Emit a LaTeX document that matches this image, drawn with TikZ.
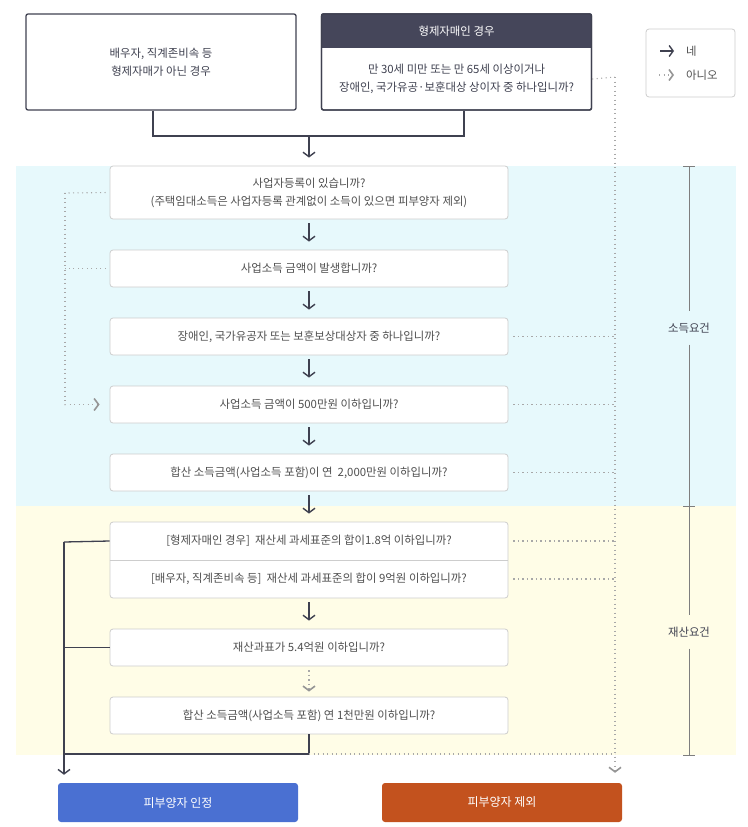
\documentclass[tikz,border=0pt]{standalone}
\usepackage{fontspec}
\setmainfont{Noto Sans CJK KR}
\usetikzlibrary{arrows.meta,positioning}

\definecolor{ink}{HTML}{3F4150}
\definecolor{hdr}{HTML}{45465A}
\definecolor{txt}{HTML}{505050}
\definecolor{rim}{HTML}{CDCDCD}
\definecolor{dotgrey}{HTML}{A8A8A8}
\definecolor{tipgrey}{HTML}{959595}
\definecolor{skyband}{HTML}{E7F9FC}
\definecolor{sandband}{HTML}{FFFDE7}
\definecolor{yesblue}{HTML}{4A70D2}
\definecolor{noorange}{HTML}{C3521E}
\definecolor{bracegrey}{HTML}{7E7E7E}

\tikzset{
  note/.style={text=txt, font=\fontsize{11.4pt}{18pt}\selectfont, align=center, inner sep=0pt},
  casebox/.style={draw=ink, line width=1.3pt, rounded corners=2pt, minimum width=270pt, minimum height=96pt, inner sep=0pt},
  qbox/.style={note, draw=rim, fill=white, line width=0.8pt, rounded corners=3pt, minimum width=398pt, minimum height=37pt},
  endbox/.style={text=white, font=\fontsize{12pt}{14pt}\selectfont, rounded corners=3pt, minimum width=240pt, minimum height=39pt, inner sep=0pt},
  tag/.style={text=ink, font=\fontsize{11.4pt}{14pt}\selectfont, inner sep=0pt, minimum height=33pt},
  link/.style={draw=ink, line width=1.3pt},
  flow/.style={link, -{Straight Barb[length=4.5pt,width=12pt,line width=1.4pt]}, shorten <=4pt, shorten >=8pt},
  nodots/.style={draw=dotgrey, line width=1.1pt, dash pattern=on 1.1pt off 3.4pt},
  nope/.style={nodots, -{Straight Barb[length=4.5pt,width=12pt,line width=1.6pt,color=tipgrey]}},
  brace/.style={draw=bracegrey, line width=0.9pt}
}

\begin{document}
\begin{tikzpicture}[x=1pt,y=-1pt]
  \useasboundingbox (0,0) rectangle (747,827);

  % bands
  \fill[skyband] (16,166) rectangle (736,506);
  \fill[sandband] (16,506) rectangle (736,755);

  % the two cases
  \node[casebox, note, text=ink] (a) at (161,62) {배우자, 직계존비속 등\\형제자매가 아닌 경우};
  \node[casebox] (b) at (456.5,62) {};
  \begin{scope}
    \clip[rounded corners=2pt] (b.north west) rectangle (b.south east);
    \fill[hdr] (b.north west) rectangle (592,48);
  \end{scope}
  \node[casebox] at (b) {};
  \node[note, text=white] (bh) at (456.5,31) {형제자매인 경우};
  \node[note, text=ink] (bq) at (456.5,79) {만 30세 미만 또는 만 65세 이상이거나\\장애인, 국가유공·보훈대상 상이자 중 하나입니까?};

  % legend
  \node[draw=rim, line width=0.8pt, rounded corners=3pt, minimum width=89pt, minimum height=68pt] (key) at (690.5,63) {};
  \draw[link, -{Straight Barb[length=4pt,width=11pt,line width=1.4pt]}] (660,51) -- (674,51);
  \draw[nope, -{Straight Barb[length=4pt,width=11pt,line width=1.6pt,color=tipgrey]}] (659,75) -- (674,75);
  \node[note, anchor=west] (yk) at (686,51) {네};
  \node[note, anchor=west] (nk) at (686,75) {아니오};

  % questions
  \begin{scope}[every node/.style={qbox}]
    \node[minimum height=53pt] (q1) at (309,192.5) {사업자등록이 있습니까?\\(주택임대소득은 사업자등록 관계없이 소득이 있으면 피부양자 제외)};
    \node (q2) at (309,268.5) {사업소득 금액이 발생합니까?};
    \node (q3) at (309,336.5) {장애인, 국가유공자 또는 보훈보상대상자 중 하나입니까?};
    \node (q4) at (309,404.5) {사업소득 금액이 500만원 이하입니까?};
    \node (q5) at (309,472.5) {합산 소득금액(사업소득 포함)이 연 \ 2,000만원 이하입니까?};
    \node[minimum height=76pt] (q6) at (309,560) {};
    \node (q7) at (309,647.5) {재산과표가 5.4억원 이하입니까?};
    \node (q8) at (309,715.5) {합산 소득금액(사업소득 포함) 연 1천만원 이하입니까?};
  \end{scope}
  \draw[rim, line width=0.8pt] (q6.west) -- (q6.east);
  \node[note] (q6a) at (309,541) {[형제자매인 경우] \ 재산세 과세표준의 합이1.8억 이하입니까?};
  \node[note] (q6b) at (309,579) {[배우자, 직계존비속 등] \ 재산세 과세표준의 합이 9억원 이하입니까?};

  % outcomes
  \node[endbox, fill=yesblue] (yes) at (178,802.5) {피부양자 인정};
  \node[endbox, fill=noorange] (no) at (502,802.5) {피부양자 제외};

  % side brackets
  \node[tag] (inc) at (689,328) {소득요건};
  \node[tag] (asset) at (689,632) {재산요건};
  \draw[brace] (683,166) -- (695,166);
  \draw[brace] (689,166) -- (inc.north);
  \draw[brace] (inc.south) -- (689,506);
  \draw[brace] (683,506) -- (695,506);
  \draw[brace] (689,506) -- (asset.north);
  \draw[brace] (asset.south) -- (689,755);
  \draw[brace] (683,755) -- (695,755);

  % yes path
  \coordinate (join) at (309,136);
  \draw[link] ([xshift=-8pt]a.south) |- (join) -| ([xshift=7.5pt]b.south);
  \draw[flow, shorten <=0pt] (join) -- (q1);
  \path (q1) edge[flow] (q2);
  \path (q2) edge[flow] (q3);
  \path (q3) edge[flow] (q4);
  \path (q4) edge[flow] (q5);
  \path (q5) edge[flow] (q6);
  \path (q6) edge[flow] (q7);
  \path (q7) edge[nope, shorten <=4pt, shorten >=5pt] (q8);

  \coordinate (ytop) at (64,542);
  \coordinate (ybend) at (64,754);
  \draw[link] (q6.west |- q6a) -- (ytop);
  \draw[flow, shorten <=0pt] (ytop) -- (yes.north -| ytop);
  \draw[link] (q7.west) -- (q7.west -| ytop);
  \draw[link] (q8.south) |- (ybend);

  % no path
  \coordinate (ntop) at (615,77);
  \draw[nodots] (b.east |- bq) -- (ntop);
  \draw[nope, shorten >=10pt] (ntop) -- (no.north -| ntop);
  \draw[nodots, shorten <=5pt] (q3.east) -- (q3.east -| ntop);
  \draw[nodots, shorten <=5pt] (q4.east) -- (q4.east -| ntop);
  \draw[nodots, shorten <=5pt] (q5.east) -- (q5.east -| ntop);
  \draw[nodots, shorten <=5pt] (q6.east |- q6a) -- (ntop |- q6a);
  \draw[nodots, shorten <=5pt] (q6.east |- q6b) -- (ntop |- q6b);
  \draw[nodots] (ybend -| q8.south) -- (ybend -| ntop);

  % skip to q4
  \coordinate (skip) at (65,193);
  \draw[nodots, shorten <=4pt] (q1.west) -- (skip);
  \draw[nope, shorten >=10pt] (skip) |- (q4.west);
  \draw[nodots, shorten <=4pt] (q2.west) -- (q2.west -| skip);

\end{tikzpicture}
\end{document}
